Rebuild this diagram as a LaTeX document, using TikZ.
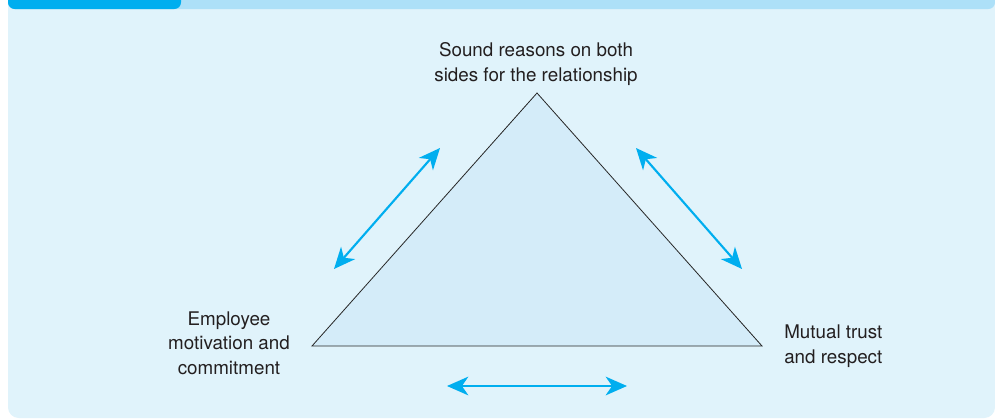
\documentclass[tikz,border=0pt]{standalone}
\usepackage{fontspec}
\setmainfont{TeX Gyre Heros}
\usetikzlibrary{arrows.meta,positioning,calc}
\definecolor{panelFill}{HTML}{E0F3FB}
\definecolor{barLight} {HTML}{ADE0F8}
\definecolor{barDark}  {HTML}{00AEEF}
\definecolor{triFill}  {HTML}{D4ECF9}
\definecolor{arrowC}   {HTML}{00AEEF}
\definecolor{textC}    {HTML}{231F20}
\tikzset{
  >={Stealth[length=16pt,width=14pt,inset=4.8pt]},
  cornerLabel/.style={font=\fontsize{14.1}{18.5}\selectfont,text=textC,
    inner sep=0pt},
  linkArrow/.style={<->,draw=arrowC,line width=1.6pt,color=arrowC},
}
\begin{document}
\begin{tikzpicture}[x=0.75pt,y=-0.75pt]
\useasboundingbox (0,0) rectangle (995,418);
% panel and header bar
\fill[panelFill,rounded corners=8pt] (8,-10) rectangle (995,418);
\fill[panelFill] (8,-10) rectangle (995,200);
\fill[barLight,rounded corners=5pt] (8,-10) rectangle (995,9);
\fill[barDark,rounded corners=5pt] (8,-10) rectangle (181,9);
% triangle
\coordinate (apex) at (537,93);
\coordinate (baseL) at (312,346);
\coordinate (baseR) at (762,346);
\draw[fill=triFill,draw=black!85,line width=0.6pt] (apex) -- (baseL) -- (baseR) -- cycle;
% labels
\node[cornerLabel,align=center] (reasons) at (536,64) {Sound reasons on both\\sides for the relationship};
\node[cornerLabel,align=center] (employee) at (229,343) {Employee\\motivation and\\commitment};
\node[cornerLabel,align=left,anchor=west] (trust) at (784,346) {Mutual trust\\and respect};
% two-way links
\coordinate (leftA) at (334,269);
\coordinate (leftB) at (440,148);
\coordinate (rightA) at (636,148);
\coordinate (rightB) at (742,269);
\coordinate (baseA) at (447,386);
\coordinate (baseB) at (627,386);
\draw[linkArrow] (leftA) -- (leftB);
\draw[linkArrow] (rightA) -- (rightB);
\draw[linkArrow] (baseA) -- (baseB);
\end{tikzpicture}
\end{document}
